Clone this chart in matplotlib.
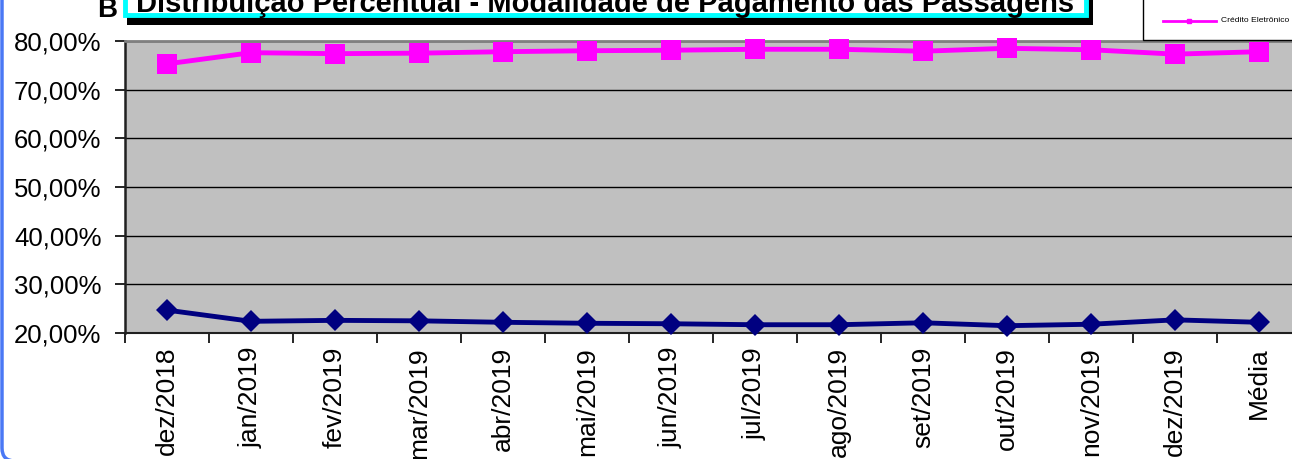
import matplotlib
matplotlib.use("Agg")
import matplotlib.pyplot as plt
from matplotlib.patches import Rectangle, FancyBboxPatch
from matplotlib.ticker import FuncFormatter, FixedLocator
from matplotlib.transforms import Affine2D

categories = ["dez/2018", "jan/2019", "fev/2019", "mar/2019", "abr/2019", "mai/2019",
              "jun/2019", "jul/2019", "ago/2019", "set/2019", "out/2019", "nov/2019",
              "dez/2019", "Média"]
credito_eletronico = [75.3, 77.6, 77.4, 77.5, 77.8, 78.0, 78.1, 78.3, 78.3, 77.9, 78.5, 78.2, 77.3, 77.8]
outra_modalidade = [24.7, 22.4, 22.6, 22.5, 22.2, 22.0, 21.9, 21.7, 21.7, 22.1, 21.5, 21.8, 22.7, 22.2]
y_ticks = [20, 30, 40, 50, 60, 70, 80]
title = "Distribuição Percentual - Modalidade de Pagamento das Passagens"

plt.rcParams['font.family'] = ['Liberation Sans', 'DejaVu Sans']

W, H = 1292, 459
fig = plt.figure(figsize=(W / 100, H / 100), dpi=100)

def fx(px):
    return px / W

def fy(py):
    return 1 - py / H

# pixel transform (origin bottom-left)
pix = Affine2D().scale(1 / 100) + fig.dpi_scale_trans

# blue rounded outer frame (cropped)
frame = FancyBboxPatch((2, -2), 1600, 700, boxstyle="round,pad=0,rounding_size=13",
                       transform=pix, facecolor='none',
                       edgecolor='#4a78f5', linewidth=2.5, zorder=0)
fig.patches.append(frame)

ax = fig.add_axes([fx(125), fy(333), fx(1301) - fx(125), fy(41) - fy(333)])
ax.set_facecolor('#c0c0c0')
x = [i + 0.5 for i in range(len(categories))]

ax.plot(x, credito_eletronico, color='#ff00ff', linewidth=3.5, marker='s',
        markersize=14.5, markeredgewidth=0, zorder=3, clip_on=False)
ax.plot(x, outra_modalidade, color='#000080', linewidth=3.5, marker='D',
        markersize=10.8, markeredgewidth=0, zorder=3, clip_on=False)

ax.set_xlim(0, len(categories))
ax.set_ylim(y_ticks[0], y_ticks[-1])
ax.yaxis.set_major_locator(FixedLocator(y_ticks))
ax.yaxis.set_major_formatter(FuncFormatter(lambda v, p: f"{v:.2f}".replace('.', ',') + "%"))
ax.set_xticks(range(len(categories) + 1))
ax.set_xticklabels([])
ax.set_xticks(x, minor=True)
ax.set_xticklabels(categories, minor=True, rotation=90, fontsize=19)
ax.tick_params(axis='x', which='minor', length=0, pad=10)
ax.tick_params(axis='x', which='major', length=7, width=1.2, direction='out')
ax.tick_params(axis='y', length=7, width=1.2, direction='out', labelsize=18.5, pad=10)
ax.grid(axis='y', color='black', linewidth=1.0, zorder=1)
ax.set_axisbelow(True)
for s in ['top', 'right']:
    ax.spines[s].set_color('#808080')
    ax.spines[s].set_linewidth(2)
ax.spines['left'].set_color('#202020')
ax.spines['left'].set_linewidth(1.8)
ax.spines['bottom'].set_color('#202020')
ax.spines['bottom'].set_linewidth(1.5)

# title box with shadow
fig.patches.append(Rectangle((fx(127), fy(25)), fx(1093) - fx(127), fy(-40) - fy(25),
                             transform=fig.transFigure, facecolor='black', edgecolor='none', zorder=5))
fig.patches.append(Rectangle((fx(125), fy(15)), fx(1086) - fx(125), fy(-40) - fy(15),
                             transform=fig.transFigure, facecolor='white', edgecolor='#00ffff',
                             linewidth=3.5, zorder=6))
fig.text(fx(605), fy(12), title, ha='center', va='baseline', fontsize=21,
         fontweight='bold', zorder=7)
fig.text(fx(97), fy(17), "B", ha='left', va='baseline', fontsize=20,
         fontweight='bold', zorder=7)

# legend box (cropped)
fig.patches.append(Rectangle((fx(1143), fy(40)), fx(1400) - fx(1143), fy(-40) - fy(40),
                             transform=fig.transFigure, facecolor='white', edgecolor='black',
                             linewidth=1, zorder=5))
fig.add_artist(plt.Line2D([fx(1163), fx(1216)], [fy(21), fy(21)], transform=fig.transFigure,
                          color='#ff00ff', linewidth=2, zorder=6))
fig.add_artist(plt.Line2D([fx(1189)], [fy(21)], transform=fig.transFigure,
                          color='#ff00ff', marker='s', markersize=3.5, zorder=6))
fig.text(fx(1221), fy(21), "Crédito Eletrônico", ha='left', va='center', fontsize=6.1, zorder=7)

fig.savefig("out.png", dpi=100)
